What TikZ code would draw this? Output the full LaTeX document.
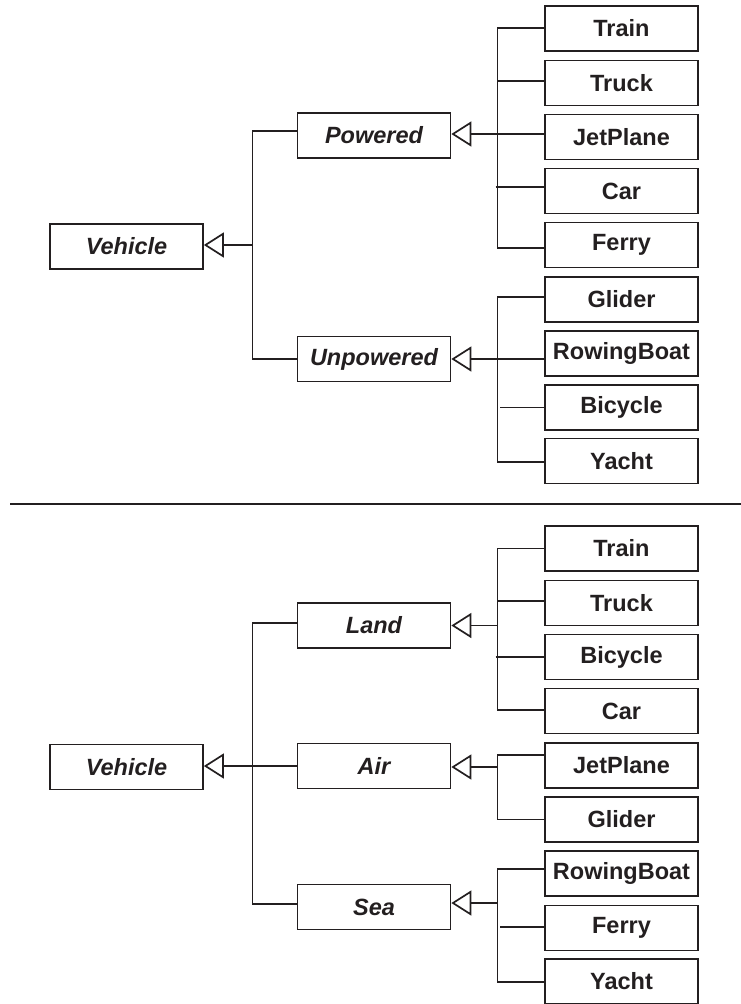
\documentclass[tikz,border=0pt]{standalone}
\usepackage{fontspec}
\setmainfont{Liberation Sans}
\usetikzlibrary{arrows.meta,calc}
\definecolor{ink}{RGB}{35,31,32}
\begin{document}
\begin{tikzpicture}[x=1pt,y=-1pt,
  cls/.style={draw=ink, text=ink, line width=1.7pt, minimum width=153pt, minimum height=45pt, inner sep=0pt, font=\fontsize{23.5}{25}\selectfont\bfseries},
  abs/.style={cls, font=\fontsize{23.5}{25}\selectfont\bfseries\itshape},
  conn/.style={line width=1.7pt, draw=ink},
  inh/.style={conn, -{Triangle[open, length=20pt, width=25pt]}},
]
\useasboundingbox (0,0) rectangle (741,1004);

% ---------------- top diagram ----------------
\node[abs] (V1) at (126.5,246.5) {Vehicle};
\node[abs] (Pow) at (374,135.5) {Powered};
\node[abs] (Unp) at (374,359) {Unpowered};

\node[cls] (t1) at (621.5,28.5) {Train};
\node[cls] (t2) at (621.5,83) {Truck};
\node[cls] (t3) at (621.5,137) {JetPlane};
\node[cls] (t4) at (621.5,191) {Car};
\node[cls] (t5) at (621.5,245) {Ferry};
\node[cls] (t6) at (621.5,299.5) {Glider};
\node[cls] (t7) at (621.5,353.5) {RowingBoat};
\node[cls] (t8) at (621.5,407.5) {Bicycle};
\node[cls] (t9) at (621.5,461) {Yacht};

\coordinate (bA) at (252.5,0);
\coordinate (bB) at (497.5,0);

% Vehicle <- Powered / Unpowered
\draw[inh] (V1.east -| bA) ++(0,-1.5) -- ($(V1.east)+(0,-1.5)$);
\draw[conn] ($(Pow.west)+(0,-4.5)$) -| (Unp.west -| bA) -- (Unp.west);

% Powered <- children
\draw[inh] ($(Pow.east -| bB)+(0,-1.5)$) -- ($(Pow.east)+(0,-1.5)$);
\draw[conn] ($(t1.west)+(0,-0.8)$) -| ($(t5.west -| bB)+(0,3)$) -- ($(t5.west)+(0,3)$);
\draw[conn] ($(t2.west -| bB)+(0,-2.3)$) -- ($(t2.west)+(0,-2.3)$);
\draw[conn] ($(t3.west -| bB)+(0,-3)$) -- ($(t3.west)+(0,-3)$);
\draw[conn] ($(t4.west -| bB)+(-2,-4)$) -- ($(t4.west)+(0,-4)$);

% Unpowered <- children
\draw[inh] (Unp.east -| bB) -- (Unp.east);
\draw[conn] ($(t6.west)+(0,-2.5)$) -| ($(t9.west -| bB)+(0,1)$) -- ($(t9.west)+(0,1)$);
\draw[conn] (Unp.east -| bB) -- ($(t7.west)+(0,5.5)$);
\draw[conn] ($(t8.west -| bB)+(2.5,0)$) -- (t8.west);

% ---------------- separator ----------------
\coordinate (sL) at (10,504);
\coordinate (sR) at (741,504);
\draw[conn] (sL) -- (sR);

% ---------------- bottom diagram ----------------
\node[abs] (V2) at (126.5,767) {Vehicle};
\node[abs] (Land) at (374,625.5) {Land};
\node[abs] (Air) at (374,766) {Air};
\node[abs] (Sea) at (374,907) {Sea};

\node[cls] (u1) at (621.5,548.5) {Train};
\node[cls] (u2) at (621.5,603) {Truck};
\node[cls] (u3) at (621.5,657) {Bicycle};
\node[cls] (u4) at (621.5,711) {Car};
\node[cls] (u5) at (621.5,765.5) {JetPlane};
\node[cls] (u6) at (621.5,819.5) {Glider};
\node[cls] (u7) at (621.5,873.5) {RowingBoat};
\node[cls] (u8) at (621.5,928) {Ferry};
\node[cls] (u9) at (621.5,981.5) {Yacht};

% Vehicle <- Land / Air / Sea
\draw[inh] ($(V2.east -| bA)+(0,-1)$) -- ($(V2.east)+(0,-1)$);
\draw[conn] ($(Land.west)+(0,-2.5)$) -| ($(Sea.west -| bA)+(0,-3)$) -- ($(Sea.west)+(0,-3)$);
\draw[conn] (Air.west -| bA) -- (Air.west);

% Land <- children
\draw[inh] (Land.east -| bB) -- (Land.east);
\draw[conn] (u1.west) -| ($(u4.west -| bB)+(0,-1)$) -- ($(u4.west)+(0,-1)$);
\draw[conn] ($(u2.west -| bB)+(0,-2)$) -- ($(u2.west)+(0,-2)$);
\draw[conn] ($(u3.west -| bB)+(-2,0)$) -- (u3.west);

% Air <- children
\draw[inh] ($(Air.east -| bB)+(0,1)$) -- ($(Air.east)+(0,1)$);
\draw[conn] ($(u5.west)+(0,-10.5)$) -| (u6.west -| bB) -- (u6.west);

% Sea <- children
\draw[inh] ($(Sea.east -| bB)+(0,-4)$) -- ($(Sea.east)+(0,-4)$);
\draw[conn] ($(u7.west)+(0,-4.5)$) -| ($(u9.west -| bB)+(0,0.5)$) -- ($(u9.west)+(0,0.5)$);
\draw[conn] ($(u8.west -| bB)+(2.5,-1)$) -- ($(u8.west)+(0,-1)$);
\end{tikzpicture}
\end{document}
